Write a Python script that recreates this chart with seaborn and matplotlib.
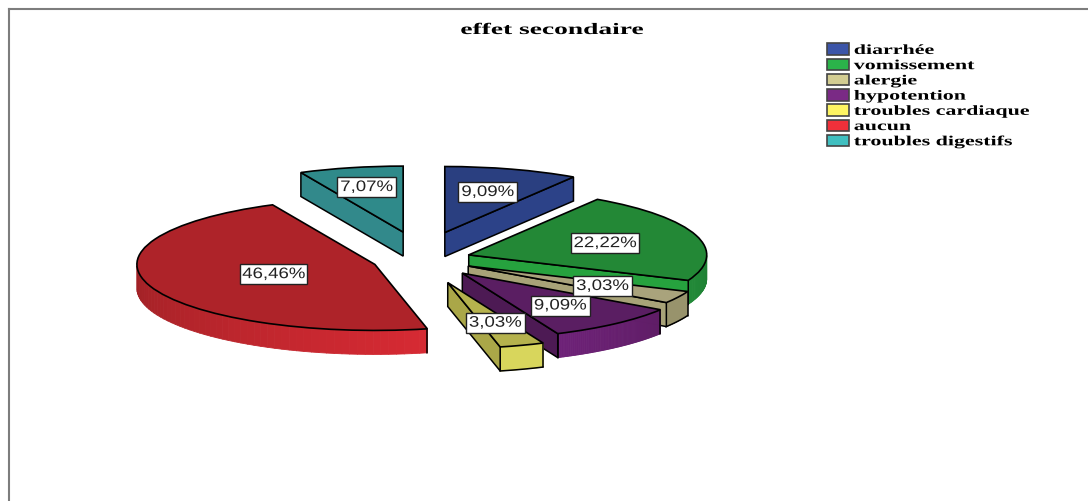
import numpy as np
import matplotlib
matplotlib.use("Agg")
import matplotlib.pyplot as plt
from matplotlib.collections import PolyCollection
from matplotlib.colors import to_rgb
from matplotlib.patches import Patch
from matplotlib.path import Path
from matplotlib.patheffects import AbstractPathEffect
from matplotlib.transforms import Affine2D
import seaborn as sns

# Side-effect categories and their shares, clockwise from twelve o'clock
categories = ["diarrhée", "vomissement", "alergie", "hypotention",
              "troubles cardiaque", "aucun", "troubles digestifs"]
percentages = [9.09, 22.22, 3.03, 9.09, 3.03, 46.46, 7.07]
chart_title = "effet secondaire"

# How far each slice is pulled out of the pie
explode = [0.355, 0.21, 0.225, 0.27, 0.36, 0.205, 0.34]
# Extra vertical drop of each slice, in pixels
slice_drop = [-2, 2, 2, 2.5, 3, 3, -3]
# Radial position of each value label
label_radius = [0.64, 0.60, 0.64, 0.64, 0.64, 0.45, 0.70]

legend_colors = ["#3c55a8", "#2bb34a", "#d3cd92", "#7a2a85", "#fdf462", "#f0303a", "#40bfc0"]
top_colors = ["#2a3f80", "#238836", "#a9a37c", "#5a1e62", "#b5b24d", "#ae2329", "#2f8a8a"]
side_colors = ["#2c4288", "#26a23e", "#a8a378", "#4d1a54", "#aaa748", "#ae2329", "#32898b"]
rim_left = ["#2c4288", "#228a38", "#98936c", "#6e2178", "#d8d65c", "#a02126", "#32898b"]
rim_right = ["#2c4288", "#1f8034", "#98936c", "#5f1d66", "#d8d65c", "#d62a33", "#32898b"]
rim_outlined = [True, False, True, False, True, False, True]

WIDTH, HEIGHT = 1088, 502
CENTER_PX = (421, 258)
RX_PX, RY_PX = 238, 66
DEPTH = 24 / RY_PX
FRAME_LEFT, FRAME_TOP = 9, 10


class StretchX(AbstractPathEffect):
    """Widen text horizontally about its centre or its left edge."""

    def __init__(self, factor, anchor="center"):
        super().__init__()
        self.factor = factor
        self.anchor = anchor

    def draw_path(self, renderer, gc, tpath, affine, rgbFace=None):
        if self.anchor == "center":
            x0 = tpath.get_extents(affine).x0 + tpath.get_extents(affine).width / 2
        else:
            x0 = affine.get_matrix()[0, 2]
        wide = affine + Affine2D().translate(-x0, 0).scale(self.factor, 1).translate(x0, 0)
        renderer.draw_path(gc, tpath, wide, rgbFace)


def label_box(x0, y0, width, height, mutation_size):
    """Rectangle with more room at the sides than above and below."""
    pad_x, pad_y = 8.0, 3.0
    left, right = x0 - pad_x, x0 + width + pad_x
    low, high = y0 - pad_y, y0 + height + pad_y
    return Path([(left, low), (right, low), (right, high), (left, high), (left, low)], closed=True)


sns.set_theme(style="white")
plt.rcParams["font.family"] = ["Liberation Sans", "DejaVu Sans"]

fig = plt.figure(figsize=(WIDTH / 100, HEIGHT / 100), dpi=100, facecolor="white")
ax = fig.add_axes([FRAME_LEFT / WIDTH, 0, 1 - FRAME_LEFT / WIDTH, 1 - FRAME_TOP / HEIGHT])

wedges, _ = ax.pie(percentages, explode=explode, colors=top_colors, startangle=90,
                   counterclock=False, frame=True, normalize=True,
                   wedgeprops=dict(edgecolor="black", linewidth=1.2))

# One data unit spans RX_PX across and RY_PX down, which tilts the pie
ax.set_aspect("auto")
ax.set_xlim((FRAME_LEFT - CENTER_PX[0]) / RX_PX, (WIDTH - CENTER_PX[0]) / RX_PX)
ax.set_ylim((CENTER_PX[1] - HEIGHT) / RY_PX, (CENTER_PX[1] - FRAME_TOP) / RY_PX)
ax.set_xticks([])
ax.set_yticks([])
sns.despine(ax=ax, top=False, left=False, right=True, bottom=True)
for side in ("top", "left"):
    ax.spines[side].set_color("#7d7d7d")
    ax.spines[side].set_linewidth(1.5)


def rim_point(wedge, angle):
    cx, cy = wedge.center
    return cx + wedge.r * np.cos(np.radians(angle)), cy + wedge.r * np.sin(np.radians(angle))


for wedge, drop in zip(wedges, slice_drop):
    wedge.set_center((wedge.center[0], wedge.center[1] - drop / RY_PX))

# Extrude every slice: curved rim on the front half, plus the cut face that looks downward
for i, wedge in enumerate(wedges):
    base = 10 * (i + 2 if i < 6 else 1)
    wedge.set_zorder(base + 5)
    cx, cy = wedge.center
    angles = np.linspace(wedge.theta1, wedge.theta2, 90)
    angles = angles[np.sin(np.radians(angles)) <= 0]

    if len(angles) > 1:
        xs = cx + wedge.r * np.cos(np.radians(angles))
        ys = cy + wedge.r * np.sin(np.radians(angles))
        c0, c1 = np.array(to_rgb(rim_left[i])), np.array(to_rgb(rim_right[i]))
        quads, shades = [], []
        for k in range(len(angles) - 1):
            quads.append([(xs[k], ys[k]), (xs[k + 1], ys[k + 1]),
                          (xs[k + 1], ys[k + 1] - DEPTH), (xs[k], ys[k] - DEPTH)])
            shades.append(c0 + (c1 - c0) * k / (len(angles) - 2))
        ax.add_collection(PolyCollection(quads, facecolors=shades, edgecolors=shades,
                                         linewidths=0.6, zorder=base))
        if rim_outlined[i]:
            ax.plot(xs, ys - DEPTH, color="black", lw=1.1, zorder=base + 1)
        for end in (0, -1):
            if abs(np.sin(np.radians(angles[end]))) > 0.05:
                ax.plot([xs[end], xs[end]], [ys[end], ys[end] - DEPTH],
                        color="black", lw=1.1, zorder=base + 1)

    # A cut face shows only when the ground below its edge lies outside the slice
    for angle, sign in ((wedge.theta1, 1), (wedge.theta2, -1)):
        if sign * np.cos(np.radians(angle)) > 1e-6:
            px, py = rim_point(wedge, angle)
            ax.fill([cx, px, px, cx], [cy, py, py - DEPTH, cy - DEPTH],
                    facecolor=side_colors[i], edgecolor="black", linewidth=1.1, zorder=base + 2)

# Value labels in white boxes
for i, wedge in enumerate(wedges):
    mid = np.radians((wedge.theta1 + wedge.theta2) / 2)
    x = wedge.center[0] + label_radius[i] * np.cos(mid)
    y = wedge.center[1] + label_radius[i] * np.sin(mid)
    ax.text(x, y, f"{percentages[i]:.2f}%".replace(".", ","), ha="center", va="center",
            fontsize=11, color="#222222", zorder=200,
            path_effects=[StretchX(1.22)],
            bbox=dict(boxstyle=label_box, facecolor="white", edgecolor="#222222", linewidth=1.0))

fig.text(552 / WIDTH, 1 - 31 / HEIGHT, chart_title, ha="center", va="center",
         fontsize=11.5, fontweight="bold", family="Liberation Serif", color="black",
         path_effects=[StretchX(1.72)])

handles = [Patch(facecolor=c, edgecolor="#444444", linewidth=1.2) for c in legend_colors]
legend = fig.legend(handles, categories, loc="upper left", bbox_to_anchor=(826 / WIDTH, 1 - 43 / HEIGHT),
                    frameon=False, prop=dict(family="Liberation Serif", weight="bold", size=10),
                    labelcolor="black", handlelength=1.55, handleheight=0.9, handletextpad=0.35,
                    labelspacing=0.12, borderpad=0.1, borderaxespad=0)
for label in legend.get_texts():
    label.set_path_effects([StretchX(1.58, anchor="left")])

fig.savefig("out.png", dpi=100, facecolor="white")
